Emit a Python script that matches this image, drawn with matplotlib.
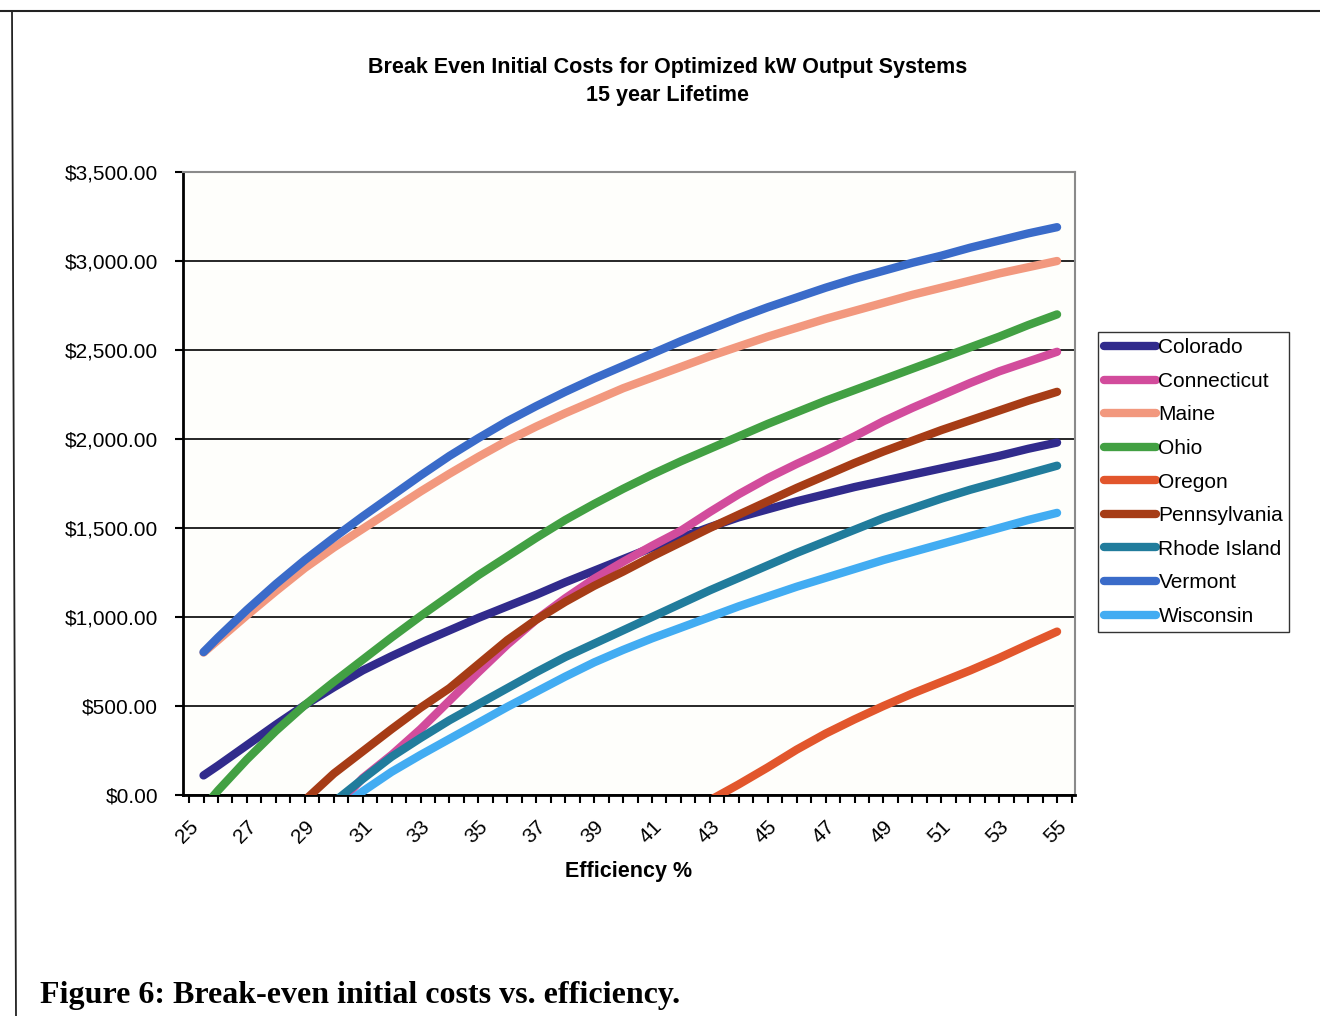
import numpy as np
import matplotlib
matplotlib.use("Agg")
import matplotlib.pyplot as plt
from matplotlib.lines import Line2D
from matplotlib.ticker import FuncFormatter, MultipleLocator

nan = np.nan

efficiency = [25.5] + list(range(26, 56))

colorado = [110, 165, 280, 395, 505, 605, 700, 780, 855, 925, 995, 1060, 1125, 1195, 1260,
            1325, 1390, 1445, 1505, 1560, 1605, 1650, 1690, 1730, 1765, 1800, 1835, 1870,
            1905, 1945, 1980]
connecticut = [nan, nan, nan, nan, nan, -80, 95, 225, 370, 530, 690, 845, 985, 1105, 1215,
               1310, 1400, 1485, 1590, 1690, 1780, 1860, 1935, 2015, 2100, 2175, 2245, 2315,
               2380, 2435, 2490]
maine = [800, 870, 1010, 1145, 1275, 1390, 1495, 1600, 1705, 1805, 1900, 1990, 2070, 2145,
         2215, 2285, 2345, 2405, 2465, 2520, 2575, 2625, 2675, 2720, 2765, 2810, 2850, 2890,
         2930, 2965, 3000]
ohio = [-70, 25, 200, 360, 505, 635, 760, 885, 1005, 1120, 1235, 1340, 1445, 1545, 1635,
        1720, 1800, 1875, 1945, 2015, 2085, 2150, 2215, 2275, 2335, 2395, 2455, 2515, 2575,
        2640, 2700]
oregon = [nan] * 18 + [-30, 60, 155, 255, 345, 425, 500, 570, 635, 700, 770, 845, 918]
pennsylvania = [nan, nan, nan, nan, -30, 120, 245, 370, 490, 600, 735, 870, 985, 1085, 1175,
                1255, 1340, 1420, 1500, 1575, 1650, 1725, 1795, 1865, 1930, 1990, 2050, 2105,
                2160, 2215, 2265]
rhode_island = [nan, nan, nan, nan, nan, -40, 90, 215, 320, 420, 510, 600, 690, 775, 850,
                925, 1000, 1075, 1150, 1220, 1290, 1360, 1425, 1490, 1555, 1610, 1665, 1715,
                1760, 1805, 1850]
vermont = [803, 885, 1040, 1185, 1320, 1445, 1565, 1680, 1795, 1905, 2005, 2100, 2185, 2265,
           2340, 2410, 2480, 2550, 2615, 2680, 2740, 2795, 2850, 2900, 2945, 2990, 3030, 3075,
           3115, 3155, 3190]
wisconsin = [nan, nan, nan, nan, nan, -100, 20, 130, 225, 315, 405, 495, 580, 665, 745, 815,
             880, 940, 1000, 1060, 1115, 1170, 1220, 1270, 1320, 1365, 1410, 1455, 1500, 1545,
             1585]

series_names = ["Colorado", "Connecticut", "Maine", "Ohio", "Oregon", "Pennsylvania",
                "Rhode Island", "Vermont", "Wisconsin"]
series_values = [colorado, connecticut, maine, ohio, oregon, pennsylvania, rhode_island,
                 vermont, wisconsin]
series_colors = ["#312b8c", "#d24c9c", "#f2987e", "#42a043", "#e2562c", "#a63c16",
                 "#217c9c", "#3a6bc9", "#42acf2"]

x_tick_labels = list(range(25, 56, 2))
y_ticks = list(range(0, 3501, 500))

plt.rcParams["font.family"] = ["Liberation Sans", "DejaVu Sans"]

W, H = 1320, 1016
fig = plt.figure(figsize=(W / 100, H / 100), dpi=100)
fig.patch.set_facecolor("white")

ax = fig.add_axes([183 / W, 1 - 795 / H, (1075 - 183) / W, (795 - 172) / H])
ax.set_facecolor("#fefefb")

lw = 6.0
for name, vals, col in zip(series_names, series_values, series_colors):
    ax.plot(efficiency, vals, color=col, lw=lw, solid_capstyle="round",
            solid_joinstyle="round", label=name, zorder=3)

ax.set_xlim(24.79, 55.62)
ax.set_ylim(0, 3500)

ax.set_yticks(y_ticks)
ax.yaxis.set_major_formatter(FuncFormatter(lambda v, p: "${:,.2f}".format(v)))
ax.tick_params(axis="y", direction="out", length=6, width=1.5, pad=12,
               labelsize=15, colors="black")
ax.grid(axis="y", color="#262626", lw=1.4, zorder=1)

ax.set_xticks(x_tick_labels)
ax.set_xticklabels([str(v) for v in x_tick_labels], rotation=45, ha="right", va="top",
                   rotation_mode="anchor")
ax.xaxis.set_minor_locator(MultipleLocator(0.5))
ax.tick_params(axis="x", which="both", direction="out", length=6, width=1.5, pad=10,
               labelsize=15)

for side in ["left", "bottom"]:
    ax.spines[side].set_color("black")
    ax.spines[side].set_linewidth(2)
for side in ["top", "right"]:
    ax.spines[side].set_color("#8a8a8a")
    ax.spines[side].set_linewidth(1.5)

ax.set_xlabel("Efficiency %", fontsize=15.5, fontweight="bold", labelpad=10)

fig.text(668 / W, 1 - 68 / H, "Break Even Initial Costs for Optimized kW Output Systems",
         ha="center", va="center", fontsize=15.5, fontweight="bold")
fig.text(668 / W, 1 - 96 / H, "15 year Lifetime", ha="center", va="center",
         fontsize=15.5, fontweight="bold")

leg = ax.legend(loc="upper left", bbox_to_anchor=(1098 / W, 1 - 332 / H),
                bbox_transform=fig.transFigure, fontsize=15, frameon=True,
                fancybox=False, edgecolor="black", handlelength=2.5, handletextpad=0.1,
                labelspacing=0.7, borderpad=0.3, borderaxespad=0)
leg.get_frame().set_linewidth(1.0)

fig.text(40 / W, 1 - 996 / H, "Figure 6: Break-even initial costs vs. efficiency.",
         ha="left", va="center", fontsize=23, fontweight="bold",
         family=["Liberation Serif", "DejaVu Serif"])

fig.add_artist(Line2D([0, 1], [1 - 11 / H, 1 - 11 / H], transform=fig.transFigure,
                      color="#222222", lw=1.5))
fig.add_artist(Line2D([12 / W, 16 / W], [1 - 11 / H, 0], transform=fig.transFigure,
                      color="#222222", lw=1.3))

fig.savefig("out.png", dpi=100, facecolor="white")
